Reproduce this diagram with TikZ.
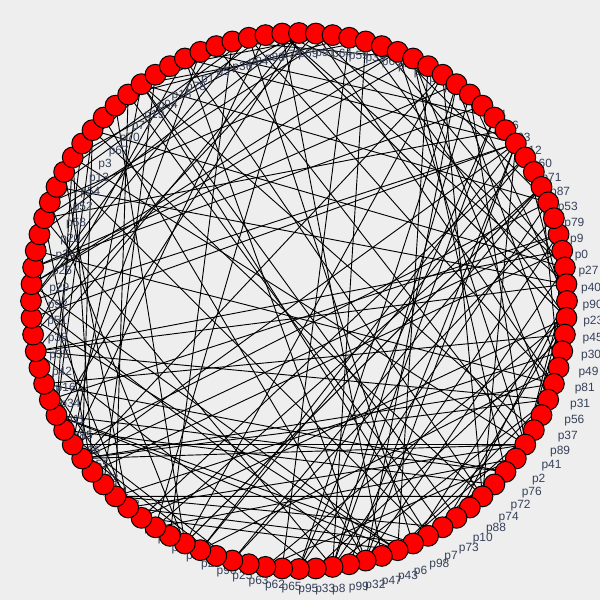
\documentclass[tikz,border=0pt]{standalone}
\usepackage{fontspec}
\setmainfont{Liberation Sans}
\pgfdeclarelayer{bglayer}
\pgfdeclarelayer{edgelayer}
\pgfdeclarelayer{labellayer}
\pgfsetlayers{bglayer,edgelayer,labellayer,main}
\definecolor{bgc}{RGB}{238,238,238}
\definecolor{lblc}{RGB}{55,65,90}
\begin{document}
\begin{tikzpicture}[x=0.025cm,y=-0.025cm,
  vnode/.style={circle,draw=black,fill=red,line width=0.7pt,minimum size=0.52cm,inner sep=0pt},
  lbl/.style={anchor=west,inner sep=0pt,text=lblc,font=\fontsize{8.5}{10}\selectfont},
  edge/.style={draw=black,line width=0.65pt}]
\begin{pgfonlayer}{bglayer}
\fill[bgc] (0,0) rectangle (600,600);
\end{pgfonlayer}
\useasboundingbox (0,0) rectangle (600,600);
\foreach \lab [count=\i from 0] in {p0,p27,p40,p90,p23,p45,p30,p49,p81,p31,p56,p37,p89,p41,p2,p76,p72,p74,p88,p10,p73,p7,p98,p6,p43,p47,p32,p99,p8,p33,p95,p65,p62,p63,p25,p96,p28,p50,p44,p48,p57,p97,p82,p21,p22,p55,p66,p85,p11,p34,p16,p42,p35,p38,p51,p92,p29,p26,p24,p20,p58,p52,p54,p13,p3,p67,p70,p77,p19,p94,p18,p78,p1,p5,p36,p84,p83,p75,p69,p91,p64,p59,p39,p68,p4,p61,p15,p46,p80,p17,p14,p86,p93,p12,p60,p71,p87,p53,p79,p9}{
  \pgfmathsetmacro\t{14.4-3.6*\i}
  \node[vnode] (n\i) at ({299+268*cos(\t)},{301-268*sin(\t)}) {};
  \begin{pgfonlayer}{labellayer}
    \node[lbl] (l\i) at ({315+268*cos(\t)},{322-268*sin(\t)}) {\lab};
  \end{pgfonlayer}
}
\begin{pgfonlayer}{edgelayer}
\pgfmathsetseed{20231}
\foreach \k in {1,...,175}{
  \pgfmathtruncatemacro{\a}{random(0,99)}
  \pgfmathtruncatemacro{\b}{random(0,99)}
  \draw[edge] (n\a.center) -- (n\b.center);
}
\end{pgfonlayer}
\end{tikzpicture}
\end{document}
